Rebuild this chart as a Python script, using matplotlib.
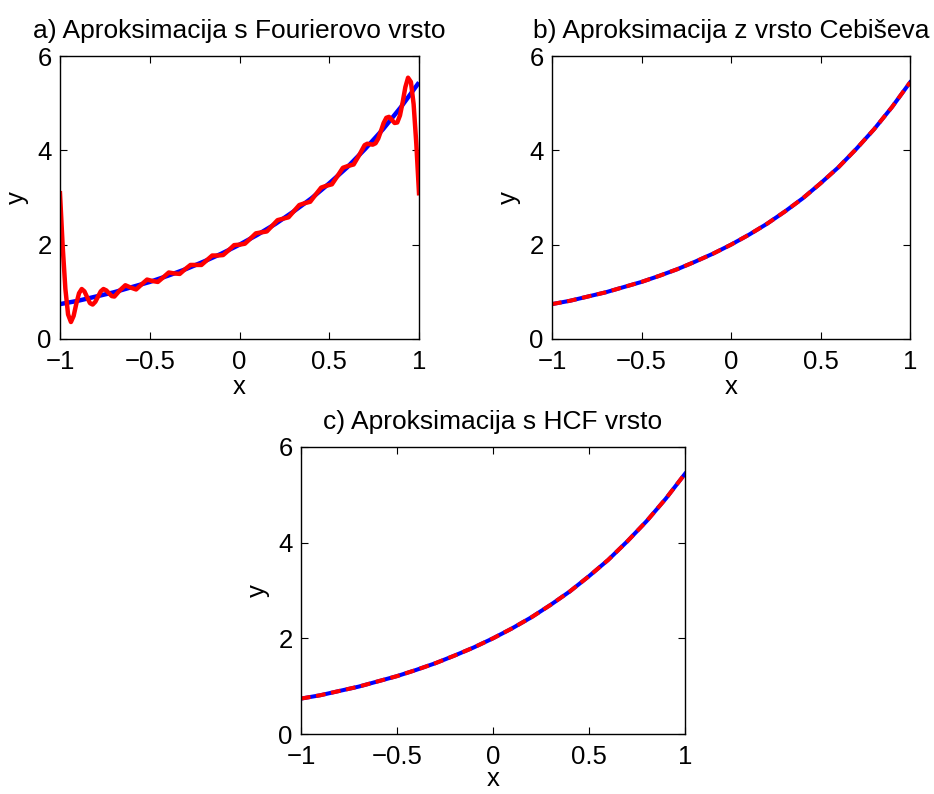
import matplotlib
matplotlib.use("Agg")
import matplotlib.pyplot as plt

plt.rcParams['font.family'] = ['Liberation Sans', 'DejaVu Sans']

# exact function (blue), sampled
x_exact = [-1.0, -0.9, -0.8, -0.7, -0.6, -0.5, -0.4, -0.3, -0.2, -0.1, 0.0,
           0.1, 0.2, 0.3, 0.4, 0.5, 0.6, 0.7, 0.8, 0.9, 1.0]
y_exact = [0.74, 0.81, 0.90, 0.99, 1.10, 1.21, 1.34, 1.48, 1.64, 1.81, 2.00,
           2.21, 2.44, 2.70, 2.98, 3.30, 3.64, 4.03, 4.45, 4.92, 5.44]

# a) Fourier series approximation (red)
x_fourier = [-1.000, -0.985, -0.970, -0.955, -0.939, -0.924, -0.909, -0.894, -0.879,
             -0.864, -0.848, -0.833, -0.818, -0.803, -0.788, -0.773, -0.758, -0.742,
             -0.727, -0.712, -0.697, -0.667, -0.636, -0.606, -0.576, -0.545, -0.515,
             -0.485, -0.455, -0.424, -0.394, -0.364, -0.333, -0.303, -0.273, -0.242,
             -0.212, -0.182, -0.152, -0.121, -0.091, -0.061, -0.030, 0.000, 0.030,
             0.061, 0.091, 0.121, 0.152, 0.182, 0.212, 0.242, 0.273, 0.303, 0.333,
             0.364, 0.394, 0.424, 0.455, 0.485, 0.515, 0.545, 0.576, 0.606, 0.636,
             0.667, 0.697, 0.712, 0.727, 0.742, 0.758, 0.773, 0.788, 0.803, 0.818,
             0.833, 0.848, 0.864, 0.879, 0.894, 0.909, 0.924, 0.939, 0.955, 0.970,
             0.985, 1.000]
y_fourier = [3.09, 1.96, 1.06, 0.52, 0.36, 0.49, 0.75, 0.97, 1.06,
             1.01, 0.88, 0.76, 0.73, 0.79, 0.90, 1.01, 1.06, 1.03,
             0.97, 0.91, 0.90, 1.03, 1.14, 1.09, 1.05, 1.16, 1.26,
             1.23, 1.21, 1.31, 1.41, 1.39, 1.38, 1.48, 1.57, 1.57,
             1.57, 1.67, 1.77, 1.77, 1.78, 1.88, 1.99, 2.00, 2.02,
             2.13, 2.24, 2.26, 2.28, 2.40, 2.52, 2.55, 2.58, 2.71, 2.84,
             2.88, 2.91, 3.06, 3.21, 3.25, 3.28, 3.45, 3.63, 3.67, 3.70,
             3.90, 4.11, 4.14, 4.13, 4.12, 4.15, 4.25, 4.41, 4.58, 4.69,
             4.71, 4.65, 4.58, 4.59, 4.74, 5.02, 5.34, 5.54, 5.45, 4.98,
             4.14, 3.09]

# b) Chebyshev series approximation (red dashed)
x_cheb = [-1.0, -0.9, -0.8, -0.7, -0.6, -0.5, -0.4, -0.3, -0.2, -0.1, 0.0,
          0.1, 0.2, 0.3, 0.4, 0.5, 0.6, 0.7, 0.8, 0.9, 1.0]
y_cheb = [0.74, 0.81, 0.90, 0.99, 1.10, 1.21, 1.34, 1.48, 1.64, 1.81, 2.00,
          2.21, 2.44, 2.70, 2.98, 3.30, 3.64, 4.03, 4.45, 4.92, 5.44]

# c) HCF series approximation (red dashed)
x_hcf = [-1.0, -0.9, -0.8, -0.7, -0.6, -0.5, -0.4, -0.3, -0.2, -0.1, 0.0,
         0.1, 0.2, 0.3, 0.4, 0.5, 0.6, 0.7, 0.8, 0.9, 1.0]
y_hcf = [0.74, 0.81, 0.90, 0.99, 1.10, 1.21, 1.34, 1.48, 1.64, 1.81, 2.00,
         2.21, 2.44, 2.70, 2.98, 3.30, 3.64, 4.03, 4.45, 4.92, 5.44]

titles = ["a) Aproksimacija s Fourierovo vrsto",
          "b) Aproksimacija z vrsto Cebiševa",
          "c) Aproksimacija s HCF vrsto"]
xticks = [-1, -0.5, 0, 0.5, 1]
xtick_labels = ["\u22121", "\u22120.5", "0", "0.5", "1"]
yticks = [0, 2, 4, 6]
ytick_labels = ["0", "2", "4", "6"]

W, H = 934, 794
fig = plt.figure(figsize=(W / 100, H / 100), dpi=100)

def box(l, t, r, b):
    return [l / W, 1 - b / H, (r - l) / W, (b - t) / H]

ax_a = fig.add_axes(box(60, 56, 419, 339))
ax_b = fig.add_axes(box(552, 56, 910, 339))
ax_c = fig.add_axes(box(301, 447, 685, 734))

FS = 18.5
FS_T = 19

def style(ax, title, xlabelpad=0, xpad=8):
    ax.set_xlim(-1, 1)
    ax.set_ylim(0, 6)
    ax.set_xticks(xticks)
    ax.set_xticklabels(xtick_labels)
    ax.set_yticks(yticks)
    ax.set_yticklabels(ytick_labels)
    ax.tick_params(direction='in', length=5, width=0.8, top=True, right=True,
                   labelsize=FS)
    ax.tick_params(axis='x', pad=xpad)
    ax.tick_params(axis='y', pad=6)
    for s in ax.spines.values():
        s.set_linewidth(1.0)
    ax.set_xlabel("x", fontsize=FS, labelpad=xlabelpad)
    ax.set_ylabel("y", fontsize=FS, labelpad=6)
    ax.set_title(title, fontsize=FS_T, pad=13)

ax_a.plot(x_exact, y_exact, color=(0, 0, 1), lw=3.2, solid_capstyle='butt')
ax_a.plot(x_fourier, y_fourier, color=(1, 0, 0), lw=3.2, solid_joinstyle='round')
style(ax_a, titles[0], xlabelpad=1)

ax_b.plot(x_exact, y_exact, color=(0, 0, 1), lw=2.9)
ax_b.plot(x_cheb, y_cheb, color=(1, 0, 0), lw=2.9, dashes=(2.4, 1.4))
style(ax_b, titles[1], xlabelpad=1)

ax_c.plot(x_exact, y_exact, color=(0, 0, 1), lw=2.9)
ax_c.plot(x_hcf, y_hcf, color=(1, 0, 0), lw=2.9, dashes=(2.4, 1.4))
style(ax_c, titles[2], xlabelpad=-1.5, xpad=8)

fig.savefig("out.png", dpi=100)
